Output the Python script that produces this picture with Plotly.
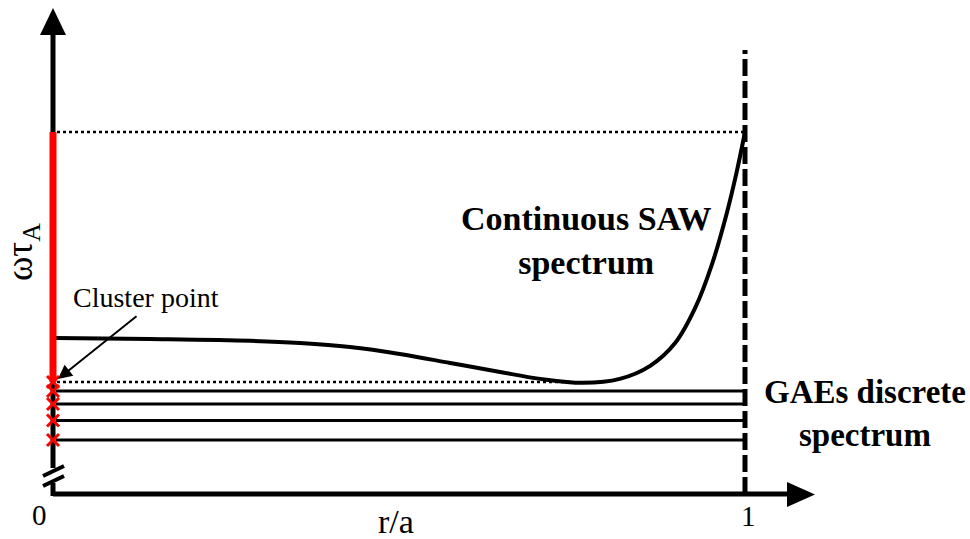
import plotly.graph_objects as go

# ---- data (r/a on the horizontal axis, normalised frequency on the vertical) ----
saw_r = [0.004, 0.140, 0.285, 0.357, 0.429, 0.501, 0.574, 0.646, 0.704, 0.766,
         0.819, 0.863, 0.899, 0.928, 0.952, 0.973, 0.988, 1.000]
saw_w = [0.431, 0.428, 0.423, 0.417, 0.406, 0.387, 0.362, 0.337, 0.318, 0.307,
         0.318, 0.354, 0.417, 0.514, 0.633, 0.771, 0.890, 1.000]
gae_w = [0.2845, 0.2486, 0.2030, 0.1492]
cluster_w = 0.3094
cluster_r_end = 0.75
top_w = 1.0
edge_r = 1.0
tick_labels = ["0", "1"]

W, H = 970, 539
X0_PX, X1_PX = 53, 745      # pixel columns of r/a = 0 and r/a = 1
Y0_PX, Y1_PX = 494, 132     # pixel rows of w = 0 and w = 1
SX = X1_PX - X0_PX
SY = Y0_PX - Y1_PX


def px2x(px):
    return (px - X0_PX) / SX


def py2y(py):
    return (Y0_PX - py) / SY


SERIF = "Liberation Serif, serif"

fig = go.Figure()

# GAE discrete eigenmodes
for w in gae_w:
    fig.add_trace(go.Scatter(x=[px2x(56), edge_r], y=[w, w], mode="lines",
                             line=dict(color="black", width=3), hoverinfo="skip"))

# dotted reference levels
fig.add_trace(go.Scatter(x=[px2x(57), cluster_r_end], y=[cluster_w, cluster_w], mode="lines",
                         line=dict(color="black", width=2.5, dash="3px,3px"), hoverinfo="skip"))
fig.add_trace(go.Scatter(x=[px2x(57), edge_r], y=[top_w, top_w], mode="lines",
                         line=dict(color="black", width=2.5, dash="3px,3px"), hoverinfo="skip"))

# continuous shear Alfven spectrum
fig.add_trace(go.Scatter(x=saw_r, y=saw_w, mode="lines", line_shape="spline",
                         line=dict(color="black", width=4, smoothing=1.0), hoverinfo="skip"))

# plasma edge
fig.add_trace(go.Scatter(x=[edge_r, edge_r], y=[0, py2y(50)], mode="lines",
                         line=dict(color="black", width=5, dash="17px,5px"), hoverinfo="skip"))

# vertical axis with break
fig.add_trace(go.Scatter(x=[0, 0], y=[py2y(Y0_PX + 2), py2y(483)], mode="lines",
                         line=dict(color="black", width=5), hoverinfo="skip"))
fig.add_trace(go.Scatter(x=[0, 0], y=[py2y(468), py2y(34)], mode="lines",
                         line=dict(color="black", width=5), hoverinfo="skip"))
for dy in (0, 10):
    fig.add_trace(go.Scatter(x=[px2x(43), px2x(64)], y=[py2y(476 + dy), py2y(466 + dy)],
                             mode="lines", line=dict(color="black", width=4), hoverinfo="skip"))

# red continuum band on the axis
fig.add_trace(go.Scatter(x=[0, 0], y=[cluster_w, top_w], mode="lines",
                         line=dict(color="#ff0000", width=7), hoverinfo="skip"))

# horizontal axis
fig.add_trace(go.Scatter(x=[0, px2x(790)], y=[0, 0], mode="lines",
                         line=dict(color="black", width=5), hoverinfo="skip"))

# eigenvalue markers
fig.add_trace(go.Scatter(x=[0] * (len(gae_w) + 1), y=[cluster_w] + gae_w, mode="markers",
                         marker=dict(symbol="x-thin", size=12,
                                     line=dict(color="#ff0000", width=3)),
                         hoverinfo="skip"))

# arrow heads
shapes = [
    dict(type="path", xref="x", yref="y", fillcolor="black", line=dict(width=0),
         path=f"M {px2x(40)} {py2y(35)} L {px2x(66)} {py2y(35)} L {px2x(53)} {py2y(8)} Z"),
    dict(type="path", xref="x", yref="y", fillcolor="black", line=dict(width=0),
         path=f"M {px2x(787)} {py2y(482)} L {px2x(787)} {py2y(507)} L {px2x(815)} {py2y(494.5)} Z"),
]

annotations = [
    dict(x=px2x(22), y=py2y(252), text="ωτ<sub>A</sub>", textangle=-90, showarrow=False,
         font=dict(family=SERIF, size=37, color="black")),
    dict(x=px2x(146), y=py2y(297), text="Cluster point", showarrow=False,
         font=dict(family=SERIF, size=28, color="black")),
    dict(x=px2x(58), y=py2y(379), ax=80, ay=-64, text="", showarrow=True,
         arrowhead=2, arrowsize=1.4, arrowwidth=2, arrowcolor="black", standoff=0),
    dict(x=px2x(586), y=py2y(240), text="<b>Continuous SAW<br>spectrum</b>", showarrow=False,
         font=dict(family=SERIF, size=34, color="black")),
    dict(x=px2x(865), y=py2y(413), text="<b>GAEs discrete<br>spectrum</b>", showarrow=False,
         font=dict(family=SERIF, size=33, color="black")),
    dict(x=px2x(39), y=py2y(515), text=tick_labels[0], showarrow=False,
         font=dict(family=SERIF, size=29, color="black")),
    dict(x=px2x(748), y=py2y(516), text=tick_labels[1], showarrow=False,
         font=dict(family=SERIF, size=29, color="black")),
    dict(x=px2x(396), y=py2y(521), text="r/a", showarrow=False,
         font=dict(family=SERIF, size=34, color="black")),
]

fig.update_layout(
    width=W, height=H,
    margin=dict(l=0, r=0, t=0, b=0),
    paper_bgcolor="white", plot_bgcolor="white",
    showlegend=False,
    xaxis=dict(range=[px2x(0), px2x(W)], visible=False, fixedrange=True),
    yaxis=dict(range=[py2y(H), py2y(0)], visible=False, fixedrange=True),
    shapes=shapes,
    annotations=annotations,
)

fig.write_html("out.html")
